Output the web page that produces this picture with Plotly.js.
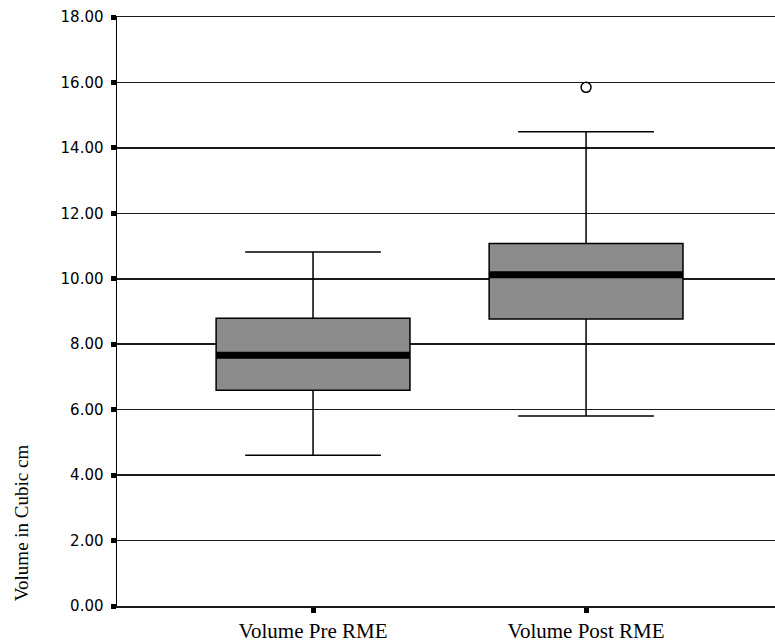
<!DOCTYPE html>
<html>
<head>
<meta charset="utf-8">
<script src="https://cdn.plot.ly/plotly-3.0.1.min.js"></script>
<style>html,body{margin:0;padding:0;background:#fff;}#chart{width:775px;height:642px;}</style>
</head>
<body>
<div id="chart"></div>
<script>
// Data
const categories = ["Volume Pre RME", "Volume Post RME"];
const lowerWhisker = [4.61, 5.81];
const q1Values = [6.59, 8.77];
const medianValues = [7.66, 10.12];
const q3Values = [8.79, 11.08];
const upperWhisker = [10.82, 14.49];
const outlierCategoryIndex = [1];
const outlierValues = [15.85];
const yTickValues = [0, 2, 4, 6, 8, 10, 12, 14, 16, 18];
const yTickLabels = ["0.00", "2.00", "4.00", "6.00", "8.00", "10.00", "12.00", "14.00", "16.00", "18.00"];

const positions = categories.map((c, i) => i);
const boxWidth = 0.71;

const traces = [
  {
    type: 'box',
    x: positions,
    q1: q1Values,
    median: medianValues,
    q3: q3Values,
    lowerfence: lowerWhisker,
    upperfence: upperWhisker,
    width: boxWidth,
    whiskerwidth: 0.7,
    boxpoints: false,
    fillcolor: '#8c8c8c',
    line: {color: '#000', width: 1.5},
    hoverinfo: 'skip',
    showlegend: false
  }
];

// thick median bars
positions.forEach((p, i) => {
  traces.push({
    type: 'scatter',
    mode: 'lines',
    x: [p - boxWidth / 2, p + boxWidth / 2],
    y: [medianValues[i], medianValues[i]],
    line: {color: '#000', width: 7},
    hoverinfo: 'skip',
    showlegend: false
  });
});

traces.push({
  type: 'scatter',
  mode: 'markers',
  x: outlierCategoryIndex,
  y: outlierValues,
  marker: {symbol: 'circle-open', size: 10, color: '#000', line: {width: 1.5, color: '#000'}},
  hoverinfo: 'skip',
  showlegend: false
});

const layout = {
  width: 775,
  height: 642,
  margin: {l: 117, r: 0, t: 17, b: 36, pad: 0},
  paper_bgcolor: '#fff',
  plot_bgcolor: '#fff',
  showlegend: false,
  xaxis: {
    range: [-0.718, 1.692],
    tickvals: positions,
    ticktext: categories,
    showgrid: false,
    zeroline: false,
    showline: true,
    mirror: true,
    linecolor: '#1a1a1a',
    linewidth: 1.5,
    ticks: 'outside',
    ticklen: 5,
    tickwidth: 5,
    tickcolor: '#000',
    tickfont: {family: 'Liberation Serif, serif', size: 21, color: '#000'}
  },
  yaxis: {
    range: [0, 18],
    tickvals: yTickValues,
    ticktext: yTickLabels,
    showgrid: true,
    gridcolor: '#1a1a1a',
    gridwidth: 1.5,
    zeroline: false,
    showline: true,
    linecolor: '#000',
    linewidth: 1.5,
    ticks: 'outside',
    ticklen: 5,
    tickwidth: 5,
    tickcolor: '#000',
    ticklabelstandoff: 4,
    tickfont: {family: 'DejaVu Sans, sans-serif', size: 15, color: '#000'}
  },
  annotations: [{
    text: 'Volume in Cubic cm',
    xref: 'paper', yref: 'paper',
    x: -0.144, y: 0.141,
    xanchor: 'center', yanchor: 'middle',
    textangle: -90,
    showarrow: false,
    font: {family: 'Liberation Serif, serif', size: 19, color: '#000'}
  }]
};

Plotly.newPlot('chart', traces, layout, {displayModeBar: false, staticPlot: true});
</script>
</body>
</html>
